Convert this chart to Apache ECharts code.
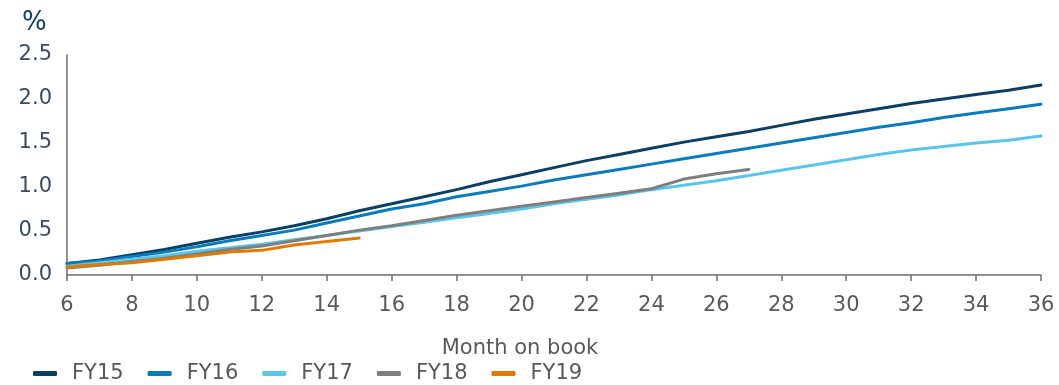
<!DOCTYPE html>
<html>
<head>
<meta charset="utf-8">
<script src="https://cdn.jsdelivr.net/npm/echarts@6/dist/echarts.min.js"></script>
<style>
  html, body { margin: 0; padding: 0; background: #fff; }
  #chart { width: 1059px; height: 385px; }
</style>
</head>
<body>
<div id="chart"></div>
<script>
// month on book (x axis)
const months = [6, 7, 8, 9, 10, 11, 12, 13, 14, 15, 16, 17, 18, 19, 20, 21, 22, 23, 24, 25, 26, 27, 28, 29, 30, 31, 32, 33, 34, 35, 36];

const fy15 = [0.13, 0.17, 0.23, 0.29, 0.36, 0.43, 0.49, 0.56, 0.64, 0.73, 0.81, 0.89, 0.97, 1.06, 1.14, 1.22, 1.30, 1.37, 1.44, 1.51, 1.57, 1.63, 1.70, 1.77, 1.83, 1.89, 1.95, 2.00, 2.05, 2.10, 2.16];
const fy16 = [0.13, 0.16, 0.21, 0.26, 0.32, 0.39, 0.45, 0.51, 0.59, 0.67, 0.75, 0.81, 0.89, 0.95, 1.01, 1.08, 1.14, 1.20, 1.26, 1.32, 1.38, 1.44, 1.50, 1.56, 1.62, 1.68, 1.73, 1.79, 1.84, 1.89, 1.94];
const fy17 = [0.10, 0.14, 0.18, 0.22, 0.27, 0.31, 0.35, 0.40, 0.45, 0.50, 0.55, 0.60, 0.65, 0.70, 0.75, 0.81, 0.86, 0.91, 0.97, 1.02, 1.07, 1.13, 1.19, 1.25, 1.31, 1.37, 1.42, 1.46, 1.50, 1.53, 1.58];
const fy18 = [0.08, 0.11, 0.15, 0.19, 0.24, 0.29, 0.33, 0.39, 0.45, 0.51, 0.56, 0.62, 0.68, 0.73, 0.78, 0.83, 0.88, 0.93, 0.98, 1.09, 1.15, 1.20];
const fy19 = [0.09, 0.12, 0.14, 0.18, 0.22, 0.26, 0.28, 0.34, 0.38, 0.42];

const seriesNames = ['FY15', 'FY16', 'FY17', 'FY18', 'FY19'];
const seriesValues = [fy15, fy16, fy17, fy18, fy19];
const seriesColors = ['#0b3f63', '#0a7bbd', '#5bc5ea', '#7f7f7f', '#e07b00'];

const yTicks = ['0.0', '0.5', '1.0', '1.5', '2.0', '2.5'];

const chart = echarts.init(document.getElementById('chart'));

const font = 'DejaVu Sans';

const options = {
  animation: false,
  grid: {
    left: 67,
    right: 18,
    top: 55,
    bottom: 110
  },
  title: {
    text: '%',
    left: 17,
    top: 5,
    textStyle: { fontFamily: font, fontSize: 26, fontWeight: 'normal', color: '#0b3f63' }
  },
  legend: {
    left: 33,
    top: 363,
    padding: 0,
    itemWidth: 24,
    itemHeight: 5,
    itemGap: 24,
    icon: 'roundRect',
    textStyle: { fontFamily: font, fontSize: 21, color: '#595959', padding: [0, 0, 0, 10] },
    data: seriesNames
  },
  xAxis: {
    type: 'value',
    min: 6,
    max: 36,
    interval: 2,
    name: 'Month on book',
    nameLocation: 'middle',
    nameGap: 63,
    nameTextStyle: { fontFamily: font, fontSize: 21, color: '#595959', padding: [0, 68, 0, 0] },
    axisLine: { lineStyle: { color: '#6d6d6d', width: 1.5 } },
    axisTick: { show: true, length: 6, lineStyle: { color: '#6d6d6d', width: 1.5 } },
    axisLabel: { fontFamily: font, fontSize: 21, color: '#595959', margin: 20 },
    splitLine: { show: false }
  },
  yAxis: {
    type: 'value',
    min: 0,
    max: 2.5,
    interval: 0.5,
    axisLine: { show: true, lineStyle: { color: '#6d6d6d', width: 1.5 } },
    axisTick: { show: false },
    axisLabel: {
      fontFamily: font,
      fontSize: 21,
      color: '#3c4b5c',
      margin: 15,
      formatter: (v) => yTicks[Math.round(v / 0.5)]
    },
    splitLine: { show: false }
  },
  series: seriesNames.map((name, i) => ({
    name: name,
    type: 'line',
    showSymbol: false,
    symbol: 'none',
    color: seriesColors[i],
    lineStyle: { width: 3, color: seriesColors[i], cap: 'round', join: 'round' },
    data: seriesValues[i].map((v, j) => [months[j], v])
  }))
};

chart.setOption(options);
</script>
</body>
</html>
